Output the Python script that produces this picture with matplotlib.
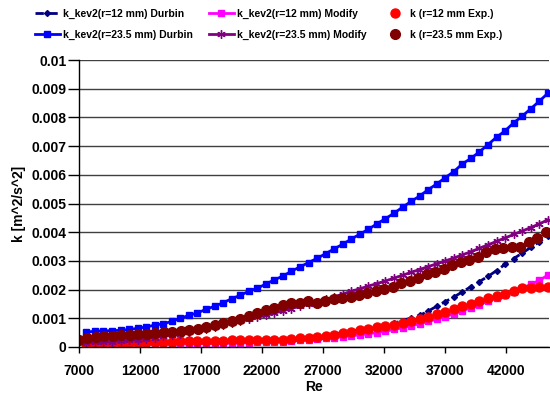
#!/usr/bin/env python3

import numpy as np
import matplotlib.pyplot as plt

plt.rcParams['font.family'] = ['Liberation Sans', 'DejaVu Sans']
plt.rcParams['font.weight'] = 'bold'

# Reynolds numbers (model curves and r=12 mm experiment share one grid)
re_model = [7600, 8300, 9000, 9700, 10400, 11100, 11800, 12500, 13200, 13900,
            14600, 15300, 16000, 16700, 17400, 18100, 18800, 19500, 20200, 20900,
            21600, 22300, 23000, 23700, 24400, 25100, 25800, 26500, 27200, 27900,
            28600, 29300, 30000, 30700, 31400, 32100, 32800, 33500, 34200, 34900,
            35600, 36300, 37000, 37700, 38400, 39100, 39800, 40500, 41200, 41900,
            42600, 43300, 44000, 44700, 45400]
re_exp23 = [7000, 7695, 8390, 9085, 9780, 10475, 11170, 11865, 12560, 13255,
            13950, 14645, 15340, 16035, 16730, 17425, 18120, 18815, 19510, 20205,
            20900, 21595, 22290, 22985, 23680, 24375, 25070, 25765, 26460, 27155,
            27850, 28545, 29240, 29935, 30630, 31325, 32020, 32715, 33410, 34105,
            34800, 35495, 36190, 36885, 37580, 38275, 38970, 39665, 40360, 41055,
            41750, 42445, 43140, 43835, 44530, 45225]

# k values in units of 1e-3 m^2/s^2
durbin12 = [0.10, 0.10, 0.11, 0.11, 0.12, 0.12, 0.13, 0.13, 0.14, 0.14,
            0.15, 0.15, 0.16, 0.16, 0.17, 0.18, 0.19, 0.20, 0.21, 0.22,
            0.23, 0.24, 0.25, 0.27, 0.29, 0.31, 0.34, 0.37, 0.41, 0.45,
            0.50, 0.55, 0.60, 0.66, 0.70, 0.75, 0.83, 0.92, 1.01, 1.10,
            1.25, 1.42, 1.58, 1.74, 1.92, 2.10, 2.28, 2.46, 2.66, 2.88,
            3.08, 3.27, 3.47, 3.66, 3.87]
modify12 = [0.05, 0.05, 0.06, 0.06, 0.07, 0.07, 0.08, 0.08, 0.09, 0.09,
            0.10, 0.10, 0.11, 0.11, 0.12, 0.12, 0.13, 0.13, 0.14, 0.15,
            0.16, 0.17, 0.18, 0.19, 0.21, 0.23, 0.25, 0.27, 0.30, 0.33,
            0.36, 0.39, 0.42, 0.46, 0.50, 0.55, 0.61, 0.67, 0.74, 0.81,
            0.89, 0.97, 1.06, 1.16, 1.26, 1.37, 1.48, 1.59, 1.70, 1.81,
            1.93, 2.05, 2.18, 2.32, 2.50]
exp12 = [0.12, 0.14, 0.14, 0.14, 0.15, 0.15, 0.15, 0.17, 0.17, 0.19,
         0.19, 0.21, 0.21, 0.22, 0.22, 0.22, 0.22, 0.23, 0.23, 0.23,
         0.23, 0.26, 0.26, 0.26, 0.28, 0.31, 0.33, 0.36, 0.38, 0.43,
         0.49, 0.52, 0.58, 0.63, 0.68, 0.73, 0.76, 0.84, 0.91, 0.99,
         1.05, 1.14, 1.22, 1.31, 1.42, 1.49, 1.61, 1.71, 1.78, 1.83,
         1.96, 2.04, 2.04, 2.08, 2.10]
durbin23 = [0.52, 0.55, 0.56, 0.57, 0.58, 0.61, 0.65, 0.70, 0.76, 0.81,
            0.89, 1.00, 1.10, 1.19, 1.31, 1.42, 1.54, 1.68, 1.80, 1.94,
            2.05, 2.19, 2.34, 2.47, 2.64, 2.79, 2.94, 3.09, 3.25, 3.42,
            3.58, 3.76, 3.93, 4.10, 4.29, 4.47, 4.66, 4.87, 5.07, 5.26,
            5.48, 5.68, 5.90, 6.11, 6.38, 6.57, 6.80, 7.05, 7.31, 7.53,
            7.81, 8.04, 8.30, 8.56, 8.84]
modify23 = [0.15, 0.16, 0.17, 0.19, 0.21, 0.23, 0.26, 0.29, 0.33, 0.37,
            0.42, 0.47, 0.52, 0.58, 0.64, 0.71, 0.78, 0.85, 0.92, 0.98,
            1.04, 1.10, 1.18, 1.26, 1.34, 1.42, 1.50, 1.58, 1.66, 1.75,
            1.84, 1.94, 2.03, 2.12, 2.21, 2.30, 2.40, 2.50, 2.60, 2.70,
            2.80, 2.90, 3.00, 3.10, 3.21, 3.32, 3.44, 3.56, 3.68, 3.80,
            3.92, 4.04, 4.16, 4.29, 4.43]
exp23 = [0.26, 0.33, 0.35, 0.37, 0.40, 0.41, 0.42, 0.44, 0.47, 0.49,
         0.51, 0.54, 0.57, 0.59, 0.64, 0.70, 0.76, 0.82, 0.91, 0.99,
         1.07, 1.19, 1.28, 1.36, 1.45, 1.52, 1.55, 1.60, 1.55, 1.60,
         1.66, 1.70, 1.75, 1.81, 1.87, 1.94, 2.02, 2.10, 2.22, 2.31,
         2.41, 2.54, 2.62, 2.71, 2.86, 2.95, 3.02, 3.13, 3.30, 3.42,
         3.46, 3.50, 3.50, 3.67, 3.79, 4.00]

x_ticks = [7000, 12000, 17000, 22000, 27000, 32000, 37000, 42000]
y_ticks = [0, 0.001, 0.002, 0.003, 0.004, 0.005, 0.006, 0.007, 0.008, 0.009, 0.01]
y_tick_labels = ["0", "0.001", "0.002", "0.003", "0.004", "0.005",
                 "0.006", "0.007", "0.008", "0.009", "0.01"]


def to_k(vals):
    return np.array(vals) * 1e-3


def main():
    fig = plt.figure(figsize=(5.5, 3.98), dpi=100)
    ax = fig.add_axes([79 / 550, 1 - 347 / 398, (549 - 79) / 550, (347 - 60) / 398])

    h_d12, = ax.plot(re_model, to_k(durbin12), color="#000080", ls=(0, (3, 2)), lw=2,
                     marker="D", ms=3, label="k_kev2(r=12 mm) Durbin")
    h_m12, = ax.plot(re_model, to_k(modify12), color="#FF00FF", lw=2,
                     marker="s", ms=4, label="k_kev2(r=12 mm) Modify")
    h_e12, = ax.plot(re_model, to_k(exp12), color="#FF0000", ls="none",
                     marker="o", ms=6.5, label="k (r=12 mm Exp.)")
    h_d23, = ax.plot(re_model, to_k(durbin23), color="#0000FF", lw=2,
                     marker="s", ms=5, label="k_kev2(r=23.5 mm) Durbin")
    h_m23, = ax.plot(re_model, to_k(modify23), color="#800080", lw=2,
                     marker=(6, 2, 0), ms=6, mew=1, label="k_kev2(r=23.5 mm) Modify")
    h_e23, = ax.plot(re_exp23, to_k(exp23), color="#800000", ls="none",
                     marker="o", ms=7, label="k (r=23.5 mm Exp.)")

    ax.set_xlim(7000, 45500)
    ax.set_ylim(0, 0.01)
    ax.set_xticks(x_ticks)
    ax.set_xticklabels([str(v) for v in x_ticks])
    ax.set_yticks(y_ticks)
    ax.set_yticklabels(y_tick_labels)
    ax.tick_params(axis="x", direction="out", length=4, width=1, pad=8, labelsize=10)
    ax.tick_params(axis="y", direction="out", length=8, width=1, pad=1, labelsize=10)

    ax.yaxis.grid(True, color="#404040", lw=1)
    ax.set_axisbelow(True)
    for side in ["top", "right"]:
        ax.spines[side].set_visible(False)
    for side in ["left", "bottom"]:
        ax.spines[side].set_color("black")
        ax.spines[side].set_linewidth(1)

    ax.set_xlabel("Re", fontsize=10, fontweight="bold", labelpad=2)
    ax.set_ylabel("k [m^2/s^2]", fontsize=10, fontweight="bold", labelpad=4)

    handles = [h_d12, h_d23, h_m12, h_m23, h_e12, h_e23]
    fig.legend(handles=handles, labels=[h.get_label() for h in handles],
               loc="upper left", bbox_to_anchor=(35 / 550, 1 - 9 / 398),
               ncol=3, frameon=False, fontsize=7.5, handlelength=2.4,
               handletextpad=0.3, columnspacing=1.5, labelspacing=1.05,
               borderaxespad=0, borderpad=0)

    fig.savefig("out.png", dpi=100)


if __name__ == "__main__":
    main()
